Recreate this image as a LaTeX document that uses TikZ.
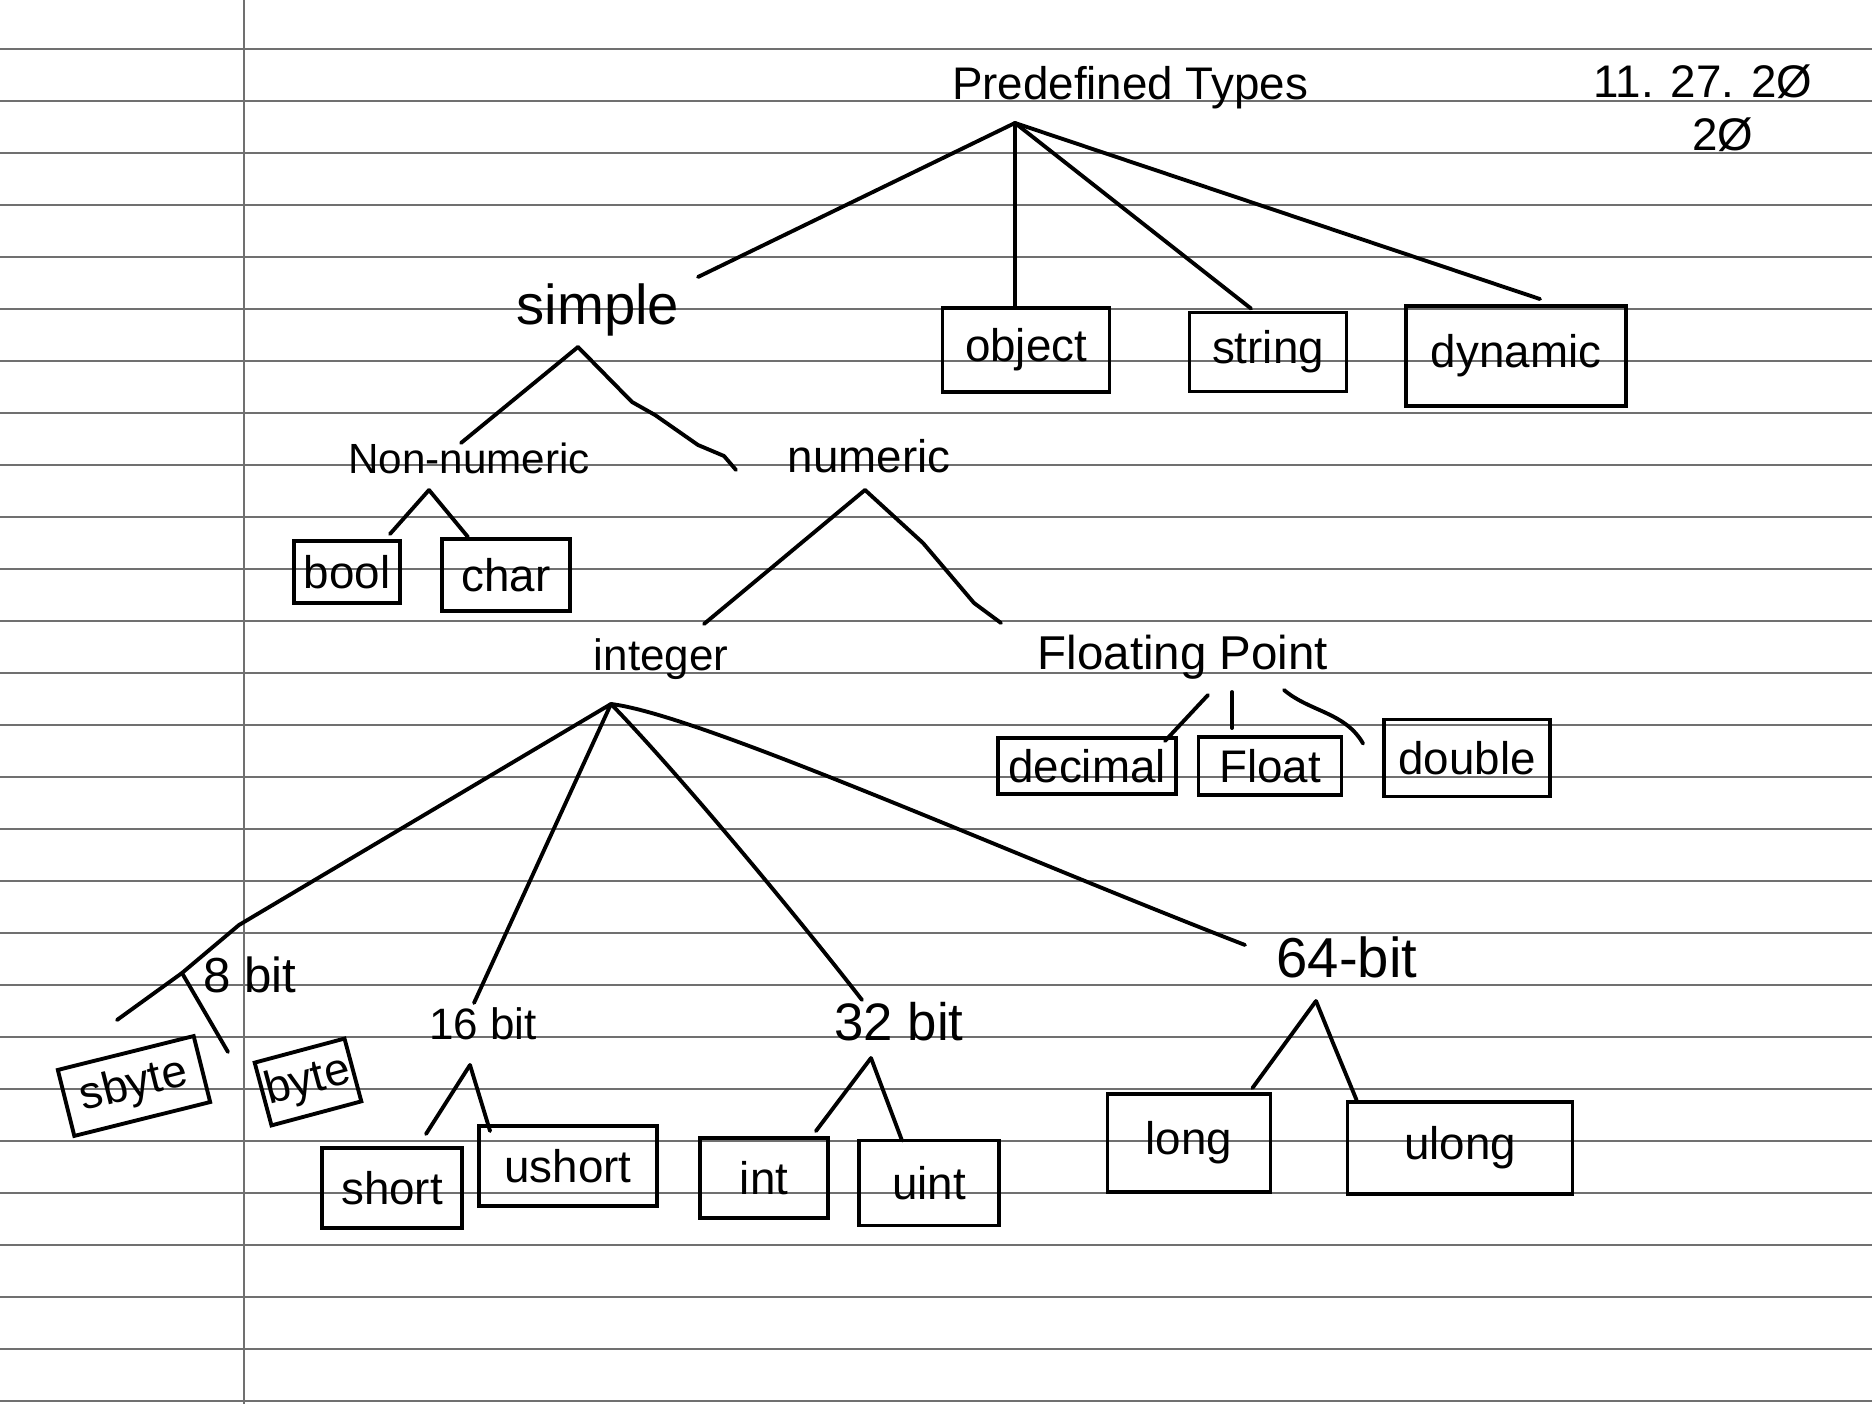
\documentclass[tikz,border=0pt]{standalone}
\usepackage{fontspec}
\setmainfont{Liberation Sans}
\definecolor{paperline}{RGB}{112,112,112}
\begin{document}
\begin{tikzpicture}[x=0.01cm,y=-0.01cm,
  paper/.style={draw=paperline,line width=0.55pt},
  ink/.style={draw=black,line width=1.1pt,line cap=round,line join=round},
  lbl/.style={inner sep=0pt,font=\fontsize{#1}{#1}\selectfont},
  lbl/.default=13,
  tbox/.style={draw=black,line width=1.1pt,inner sep=0pt,font=\fontsize{13}{13}\selectfont},
  bx/.style 2 args={minimum width=#1*0.01cm,minimum height=#2*0.01cm}]
% page and paper ruling
\useasboundingbox (0,0) rectangle (1872,1404);
\fill[white] (0,0) rectangle (1872,1404);
\foreach \k in {0,...,26}
  \draw[paper] (0,{49.3+52*\k}) -- (1872,{49.3+52*\k});
\draw[paper] (244.3,0) -- (244.3,1404);

% ---- labels ----
\node[lbl] (pdt) at (1130,88) {Predefined Types};
\node[lbl=13] (date1) at (1703,82) {11. 27. 2Ø};
\node[lbl=13] (date2) at (1723,135) {2Ø};
\node[lbl=16] (simple) at (598,310) {simple};
\node[lbl=12] (nonnum) at (469,458) {Non-numeric};
\node[lbl=13] (numeric) at (869,456) {numeric};
\node[lbl=12.5] (integer) at (661,659) {integer};
\node[lbl=13.5] (fp) at (1183,657) {Floating Point};
\node[lbl=14] (b8) at (250,975) {8 bit};
\node[lbl=12.5] (b16) at (483,1024) {16 bit};
\node[lbl=15] (b32) at (899,1022) {32 bit};
\node[lbl=16] (b64) at (1347,957) {64-bit};

% ---- boxes ----
\node[tbox,bx={167}{84}] (object) at (1026,350) {object};
\node[tbox,bx={157}{79}] (string) at (1268,352) {string};
\node[tbox,bx={220}{100}] (dynamic) at (1516,356) {dynamic};
\node[tbox,bx={106}{62}] (bool) at (347,572) {bool};
\node[tbox,bx={128}{72}] (char) at (506,575) {char};
\node[tbox,bx={178}{56}] (decimal) at (1087,766) {decimal};
\node[tbox,bx={143}{58}] (float) at (1270,766) {Float};
\node[tbox,bx={166}{77}] (double) at (1467,758) {double};
\node[tbox,bx={140}{68},rotate=14] (sbyte) at (134,1086) {sbyte};
\node[tbox,bx={93}{65},rotate=15] (byte) at (308,1082) {byte};
\node[tbox,bx={140}{80}] (short) at (392,1188) {short};
\node[tbox,bx={178}{80}] (ushort) at (568,1166) {ushort};
\node[tbox,bx={128}{80}] (int) at (764,1178) {int};
\node[tbox,bx={140}{85}] (uint) at (929,1183) {uint};
\node[tbox,bx={163}{98}] (long) at (1189,1143) {long};
\node[tbox,bx={225}{92}] (ulong) at (1460,1148) {ulong};

% ---- branch points and free ends ----
\coordinate (rootA) at (1015,123);
\coordinate (simE) at (698,277);
\coordinate (simA) at (578,347);
\coordinate (nnE) at (461,443);
\coordinate (numE) at (736,470);
\coordinate (nonA) at (429,490);
\coordinate (numA) at (865,490);
\coordinate (intE) at (704,624);
\coordinate (fpE) at (1001,623);
\coordinate (fp1) at (1208,695);
\coordinate (fp2) at (1232,692);
\coordinate (fp3) at (1284,690);
\coordinate (intA) at (611,704);
\coordinate (b8K) at (239,925);
\coordinate (b8A) at (182,973);
\coordinate (b16E) at (474,1003);
\coordinate (b32E) at (862,1000);
\coordinate (b64E) at (1245,945);
\coordinate (b16A) at (470,1065);
\coordinate (b32A) at (871,1058);
\coordinate (b64A) at (1316,1001);

% ---- connectors ----
\draw[ink] (rootA) -- (simE);
\draw[ink] (rootA) -- (rootA |- object.north);
\draw[ink] (rootA) -- ([xshift=-17*0.01cm,yshift=2*0.01cm]string.north);
\draw[ink] (rootA) -- ([xshift=24*0.01cm,yshift=5*0.01cm]dynamic.north);

\draw[ink] (simA) -- (nnE);
\draw[ink] (simA) -- (632,402) -- (655,415) -- (698,445) -- (724,456) -- (numE);
\draw[ink] (nonA) -- ([xshift=-12*0.01cm,yshift=5*0.01cm]bool.north east);
\draw[ink] (nonA) -- ([xshift=-38*0.01cm]char.north);
\draw[ink] (numA) -- (intE);
\draw[ink] (numA) -- (923,543) -- (974,603) -- (fpE);

\draw[ink] (fp1) -- ([xshift=-13*0.01cm,yshift=-5*0.01cm]decimal.north east);
\draw[ink] (fp2) -- ([xshift=-38*0.01cm,yshift=7*0.01cm]float.north);
\draw[ink] (fp3) .. controls (1310,712) and (1345,712) .. ([xshift=-19*0.01cm,yshift=-26*0.01cm]double.north west);

\draw[ink] (intA) -- (b8K) -- (b8A) -- (117,1020);
\draw[ink] (b8A) -- (228,1052);
\draw[ink] (intA) -- (b16E);
\draw[ink] (intA) .. controls (680,775) and (800,920) .. (b32E);
\draw[ink] (intA) .. controls (700,715) and (1000,850) .. (b64E);

\draw[ink] (b16A) -- (426,1134);
\draw[ink] (b16A) -- ([xshift=13*0.01cm,yshift=-7*0.01cm]ushort.north west);
\draw[ink] (b32A) -- ([xshift=-14*0.01cm,yshift=5*0.01cm]int.north east);
\draw[ink] (b32A) -- ([xshift=-27*0.01cm,yshift=-2*0.01cm]uint.north);
\draw[ink] (b64A) -- ([xshift=-20*0.01cm,yshift=4*0.01cm]long.north east);
\draw[ink] (b64A) -- (1333,1043) -- ([xshift=11*0.01cm]ulong.north west);
\end{tikzpicture}
\end{document}
